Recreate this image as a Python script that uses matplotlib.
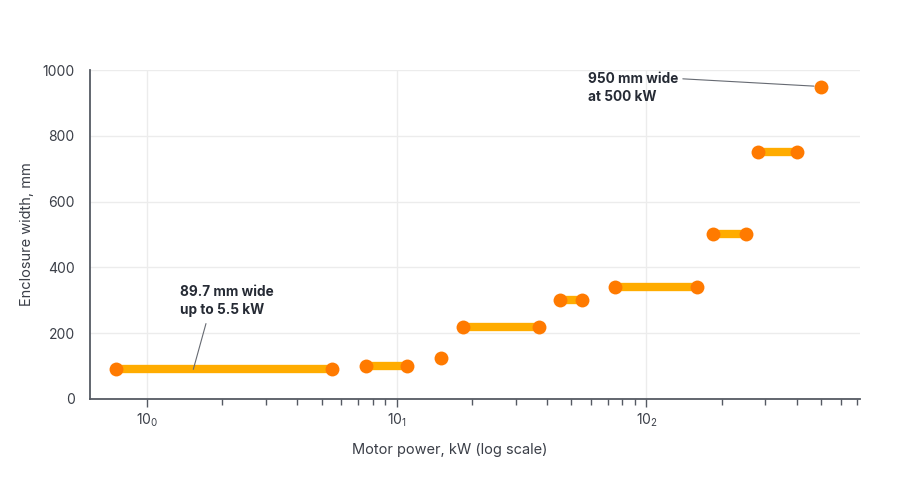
import matplotlib
matplotlib.use("Agg")
import matplotlib.pyplot as plt
from matplotlib.ticker import FixedLocator, NullFormatter

plt.rcParams['font.family'] = ['Inter', 'DejaVu Sans']

# power ranges (kW) and enclosure width (mm) per frame size
p_lo = [0.75, 7.5, 15, 18.5, 45, 75, 185, 280, 500]
p_hi = [5.5, 11, 15, 37, 55, 160, 250, 400, 500]
width_mm = [89.7, 100, 125, 220, 300, 340, 500, 750, 950]

major_ticks = [1, 10, 100]
major_labels = [r'10$_{\mathregular{0}}$', r'10$_{\mathregular{1}}$', r'10$_{\mathregular{2}}$']
minor_ticks = [2, 3, 4, 5, 6, 7, 8, 9,
               20, 30, 40, 50, 60, 70, 80, 90,
               200, 300, 400, 500, 600, 700]
y_ticks = [0, 200, 400, 600, 800, 1000]

bar_col = '#ffac00'
dot_col = '#ff7a00'
txt_col = '#3b3f48'
ann_col = '#262b35'

fig = plt.figure(figsize=(9, 4.9), dpi=100)
ax = fig.add_axes([0.1, 0.186, 0.856, 0.671])

for lo, hi, w in zip(p_lo, p_hi, width_mm):
    if hi > lo:
        ax.plot([lo, hi], [w, w], color=bar_col, lw=6, solid_capstyle='butt', zorder=2)
        ax.plot([lo, hi], [w, w], 'o', color=dot_col, ms=10, mec='none', zorder=3)
    else:
        ax.plot([lo], [w], 'o', color=dot_col, ms=10, mec='none', zorder=3)

ax.set_xscale('log')
ax.set_xlim(0.59, 720)
ax.set_ylim(0, 1000)

ax.xaxis.set_major_locator(FixedLocator(major_ticks))
ax.set_xticklabels(major_labels)
ax.xaxis.set_minor_locator(FixedLocator(minor_ticks))
ax.xaxis.set_minor_formatter(NullFormatter())
ax.set_yticks(y_ticks)

ax.grid(True, which='major', axis='both', color='#ececec', lw=1, zorder=0)
ax.set_axisbelow(True)

for s in ['top', 'right']:
    ax.spines[s].set_visible(False)
for s in ['left', 'bottom']:
    ax.spines[s].set_color('#555a63')
    ax.spines[s].set_linewidth(1.3)

ax.tick_params(axis='x', which='major', length=6, width=1, color='#555a63',
               labelsize=10, labelcolor=txt_col, pad=3)
ax.tick_params(axis='x', which='minor', length=4, width=1, color='#555a63')
ax.tick_params(axis='y', length=0, labelsize=10, labelcolor=txt_col, pad=11)

ax.set_xlabel('Motor power, kW (log scale)', fontsize=10.5, color=txt_col, labelpad=11)
ax.xaxis.set_label_coords(0.4675, -0.135)
ax.set_ylabel('Enclosure width, mm', fontsize=10.5, color=txt_col, labelpad=6)

ax.annotate('89.7 mm wide\nup to 5.5 kW', xy=(1.53, width_mm[0]), xytext=(1.35, 298),
            fontsize=9.8, fontweight='bold', color=ann_col, va='center', ha='left',
            linespacing=1.35,
            arrowprops=dict(arrowstyle='-', color='#666a72', lw=0.8,
                            relpos=(0.3, 0.0), shrinkA=3, shrinkB=0))
ax.annotate('950 mm wide\nat 500 kW', xy=(p_lo[-1], width_mm[-1]), xytext=(58.5, 945),
            fontsize=9.8, fontweight='bold', color=ann_col, va='center', ha='left',
            linespacing=1.35,
            arrowprops=dict(arrowstyle='-', color='#666a72', lw=0.8,
                            relpos=(1.0, 0.8), shrinkA=1, shrinkB=5))

fig.savefig('out.png', dpi=100, facecolor='white')
